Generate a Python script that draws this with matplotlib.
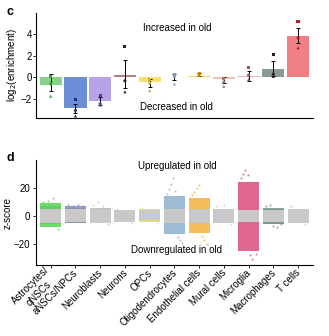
import numpy as np
from matplotlib import pyplot as plt

plt.rcParams['font.family'] = ['Liberation Sans', 'DejaVu Sans']
plt.rcParams['font.size'] = 7

# Cell types (shared x axis)
cells = ['Astrocytes/\nqNSCs', 'aNSCs/NPCs', 'Neuroblasts', 'Neurons', 'OPCs',
         'Oligodendrocytes', 'Endothelial cells', 'Mural cells', 'Microglia',
         'Macrophages', 'T cells']

# Panel c: log2 enrichment (bar = mean, error = range, three replicate points)
enrich = [-0.7, -2.8, -2.1, 0.25, -0.45, 0.05, 0.15, -0.1, 0.1, 0.8, 3.8]
err_hi = [0.3, -2.4, -1.8, 1.6, -0.1, 0.35, 0.4, 0.05, 0.6, 1.5, 4.5]
err_lo = [-1.2, -3.2, -2.5, -1.0, -0.9, -0.2, 0.1, -0.5, -0.3, 0.1, 3.1]
rep1 = [0.1, -2.0, -1.6, 2.8, -0.2, 0.3, 0.4, -0.1, 0.9, 2.1, 5.1]
rep2 = [-0.6, -3.0, -2.4, -0.3, -0.5, 0.1, 0.3, -0.4, 0.2, 0.3, 3.6]
rep3 = [-1.7, -3.5, -2.5, -1.3, -1.2, -0.6, 0.2, -0.8, -0.2, 0.1, 2.7]
bar_colors = ['#86d486', '#6b8fd6', '#b7a2ea', '#b27f86', '#f5de7a', '#d8e2ea',
              '#f6c88a', '#f2c1ac', '#e8b5c4', '#8a9b93', '#f07f86']
pt_colors = ['#3e9e3e', '#1d2f70', '#5a3f96', '#3a1a20', '#c8b030', '#8899aa',
             '#c08020', '#9a7a70', '#a05070', '#222222', '#c01822']

# Panel d: z-score clouds per cell type
core_lo = [-6, -5, -5, -4, -4, -5, -5, -5, -4, -6, -5]
core_hi = [7, 6, 6, 4, 5, 5, 5, 5, 4, 5, 5]
up_lo = [5, 5, 5, 0, 4, 5, 5, 0, 4, 4, 0]
up_hi = [9, 7, 6, 0, 5, 14, 13, 0, 24, 6, 0]
dn_lo = [-8, -5, 0, 0, -4, -13, -12, 0, -25, -6, 0]
dn_hi = [-5, -4, 0, 0, -3, -5, -5, 0, -4, -4, 0]
cloud_colors = ['#3fcf3f', '#7080b0', '#c0c0c0', '#c0c0c0', '#e6e080', '#7fa6c8',
                '#f5a623', '#c0c0c0', '#d6336c', '#6a8585', '#c0c0c0']
outliers = [[10, 11, 13, -9],
            [8, 7.5, 8, 7],
            [8, 10, 7, -6],
            [5, -5],
            [6, -5],
            [16, 19, 23, 27, 18, -15, -17, -19],
            [15, 17, 20, 22, -14, -17, -20],
            [7, 8, -6],
            [27, 30, 33, 29, -28, -31, -35, -27],
            [7, 8, -7, -8, -6],
            [7, -6]]

fig = plt.figure(figsize=(3.29, 3.36), dpi=100)
x = np.arange(len(cells))

# ---- panel c
ax1 = fig.add_axes([0.109, 0.649, 0.842, 0.312])
ax1.bar(x, enrich, width=0.9, color=bar_colors)
ax1.errorbar(x, enrich,
             yerr=[np.array(enrich) - np.array(err_lo), np.array(err_hi) - np.array(enrich)],
             fmt='none', ecolor='black', elinewidth=0.7, capsize=1.5, capthick=0.7)
ax1.scatter(x, rep1, s=5, marker='s', c=pt_colors, zorder=3, linewidths=0)
ax1.scatter(x, rep2, s=5, marker='o', c=pt_colors, zorder=3, linewidths=0)
ax1.scatter(x, rep3, s=5, marker='^', c=pt_colors, zorder=3, linewidths=0)
ax1.set_xlim(-0.6, 10.6)
ax1.set_ylim(-3.68, 5.86)
ax1.set_yticks([-2, 0, 2, 4])
ax1.set_yticklabels(['\u22122', '0', '2', '4'])
ax1.set_xticks([])
ax1.set_ylabel('log$_2$(enrichment)', labelpad=1)
ax1.spines[['top', 'right']].set_visible(False)
ax1.tick_params(axis='y', length=2, width=0.6, pad=1)
ax1.text(5.1, 4.5, 'Increased in old', ha='center', va='center')
ax1.text(5.1, -2.7, 'Decreased in old', ha='center', va='center')
fig.text(0.02, 0.955, 'c', fontsize=9, fontweight='bold')

# ---- panel d
ax2 = fig.add_axes([0.109, 0.211, 0.842, 0.313])
w = 0.85
ax2.bar(x, np.array(core_hi) - np.array(core_lo), bottom=core_lo, width=w,
        color='#c4c4c4', alpha=0.9)
ax2.bar(x, np.array(up_hi) - np.array(up_lo), bottom=up_lo, width=w,
        color=cloud_colors, alpha=0.75)
ax2.bar(x, np.array(dn_hi) - np.array(dn_lo), bottom=dn_lo, width=w,
        color=cloud_colors, alpha=0.75)
for i, vals in enumerate(outliers):
    xs = i + np.linspace(-0.3, 0.3, len(vals))
    ax2.scatter(xs, vals, s=2, color=cloud_colors[i], alpha=0.7, linewidths=0)
ax2.set_xlim(-0.6, 10.6)
ax2.set_ylim(-35, 40)
ax2.set_yticks([-20, 0, 20])
ax2.set_yticklabels(['\u221220', '0', '20'])
ax2.set_xticks(x)
ax2.set_xticklabels(cells, rotation=45, ha='right', va='center_baseline',
                    rotation_mode='anchor', multialignment='center')
ax2.set_ylabel('z-score', labelpad=1)
ax2.spines[['top', 'right']].set_visible(False)
ax2.tick_params(length=2, width=0.6, pad=2)
ax2.text(5.1, 36, 'Upregulated in old', ha='center', va='center')
ax2.text(5.1, -24.5, 'Downregulated in old', ha='center', va='center')
fig.text(0.02, 0.52, 'd', fontsize=9, fontweight='bold')

fig.savefig('out.png', dpi=100)
